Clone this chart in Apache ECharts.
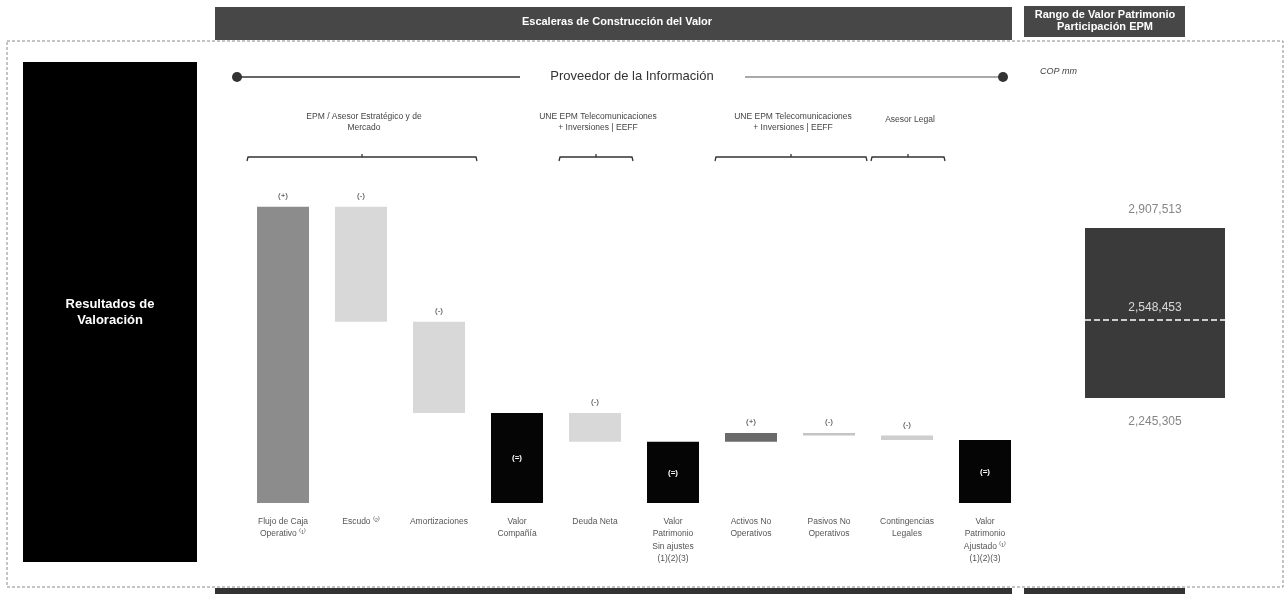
<!DOCTYPE html>
<html><head><meta charset="utf-8">
<script src="https://cdn.jsdelivr.net/npm/echarts@6/dist/echarts.min.js"></script>
<style>html,body{margin:0;padding:0;background:#fff}#c{width:1288px;height:594px}</style>
</head><body><div id="c"></div>
<script>
// ---------- data ----------
const categories = ['Flujo de Caja\nOperativo ⁽¹⁾', 'Escudo ⁽²⁾', 'Amortizaciones', 'Valor\nCompañía', 'Deuda Neta',
  'Valor\nPatrimonio\nSin ajustes\n(1)(2)(3)', 'Activos No\nOperativos', 'Pasivos No\nOperativos',
  'Contingencias\nLegales', 'Valor\nPatrimonio\nAjustado ⁽¹⁾\n(1)(2)(3)'];
const stepKinds = ['start', 'delta', 'delta', 'total', 'delta', 'total', 'delta', 'delta', 'delta', 'total'];
const stepValues = [11970000, -4650000, -3680000, 3640000, -1170000, 2470000, 360000, -100000, -181547, 2548453];
const stepSigns = ['(+)', '(-)', '(-)', '(=)', '(-)', '(=)', '(+)', '(-)', '(-)', '(=)'];
const rangeValues = [2245305, 2548453, 2907513];           // low, mid, high (COP mm)
const rangeLabels = ['2,245,305', '2,548,453', '2,907,513'];
const providerGroups = ['EPM / Asesor Estratégico y de\nMercado', 'UNE EPM Telecomunicaciones\n+ Inversiones | EEFF',
  'UNE EPM Telecomunicaciones\n+ Inversiones | EEFF', 'Asesor Legal'];
const providerFrom = [0, 4, 6, 8];
const providerTo = [2, 4, 7, 8];

// ---------- styles ----------
const barColors = ['#8c8c8c', '#d8d8d8', '#d8d8d8', '#050505', '#d8d8d8', '#050505', '#6a6a6a', '#c4c4c4', '#cecece', '#050505'];
const FONT = '"Liberation Sans", Arial, sans-serif';

// ---------- waterfall build ----------
const baseData = [], visData = [];
let run = 0;
stepValues.forEach((v, i) => {
  if (stepKinds[i] === 'total' || stepKinds[i] === 'start') {
    baseData.push(0);
    const inside = stepKinds[i] === 'total';
    visData.push({ value: v, itemStyle: { color: barColors[i] },
      label: inside ? { position: 'inside', color: '#fff', fontSize: 8, fontWeight: 'bold' }
                    : { position: 'top', distance: 7, color: '#333', fontSize: 8 } });
    run = v;
  } else {
    const end = run + v;
    baseData.push(Math.min(run, end));
    visData.push({ value: Math.abs(v), itemStyle: { color: barColors[i] },
      label: { position: 'top', distance: 7, color: '#333', fontSize: 8 } });
    run = end;
  }
});

const chart = echarts.init(document.getElementById('c'), null, { renderer: 'canvas' });

const option = {
  animation: false,
  backgroundColor: '#fff',
  textStyle: { fontFamily: FONT },
  grid: [
    { left: 244, width: 780, top: 206, height: 297 },
    { left: 1085, width: 140, top: 228, height: 170 }
  ],
  xAxis: [
    { type: 'category', gridIndex: 0, data: categories,
      axisLine: { show: false }, axisTick: { show: false },
      axisLabel: { interval: 0, fontSize: 8.5, color: '#555', lineHeight: 12.5, margin: 12, fontFamily: FONT } },
    { type: 'category', gridIndex: 1, data: ['Rango'], show: false }
  ],
  yAxis: [
    { type: 'value', gridIndex: 0, min: 0, max: 12000000, show: false },
    { type: 'value', gridIndex: 1, min: rangeValues[0], max: rangeValues[2], show: false }
  ],
  series: [
    { type: 'bar', name: 'base', stack: 'wf', xAxisIndex: 0, yAxisIndex: 0, barWidth: 52,
      itemStyle: { color: 'transparent' }, data: baseData, silent: true },
    { type: 'bar', name: 'paso', stack: 'wf', xAxisIndex: 0, yAxisIndex: 0, barWidth: 52,
      label: { show: true, formatter: p => stepSigns[p.dataIndex], fontFamily: FONT },
      data: visData },
    { type: 'bar', name: 'rbase', stack: 'rg', xAxisIndex: 1, yAxisIndex: 1, barWidth: 140,
      itemStyle: { color: 'transparent' }, data: [rangeValues[0]], silent: true },
    { type: 'bar', name: 'rango', stack: 'rg', xAxisIndex: 1, yAxisIndex: 1, barWidth: 140,
      itemStyle: { color: '#3a3a3a' }, data: [rangeValues[2] - rangeValues[0]],
      markLine: { silent: true, symbol: 'none', label: { show: false },
        lineStyle: { color: '#fff', type: [6, 3], width: 1.5 },
        data: [{ yAxis: rangeValues[1] }] } },
    { type: 'scatter', xAxisIndex: 1, yAxisIndex: 1, symbolSize: 0, clip: false, z: 5,
      data: [
        { value: ['Rango', rangeValues[0]], label: { position: 'bottom', distance: 18, color: '#666' } },
        { value: ['Rango', rangeValues[1]], label: { position: 'top', distance: 6, color: '#fff' } },
        { value: ['Rango', rangeValues[2]], label: { position: 'top', distance: 12, color: '#666' } }
      ],
      label: { show: true, fontSize: 12, fontFamily: FONT, formatter: p => rangeLabels[p.dataIndex] } }
  ]
};
chart.setOption(option);

// ---------- decorations ----------
function txt(text, x, y, font, fill, extra) {
  return { type: 'text', silent: true, z: 20,
    style: Object.assign({ text, x, y, font, fill, align: 'center', verticalAlign: 'middle' }, extra || {}) };
}
const g = [];
// dashed frame
g.push({ type: 'rect', shape: { x: 7, y: 41, width: 1276, height: 546 },
  style: { fill: 'none', stroke: '#8a8a8a', lineWidth: 1, lineDash: [3, 2] }, z: 0, silent: true });
// headers
g.push({ type: 'rect', shape: { x: 215, y: 7, width: 797, height: 33 }, style: { fill: '#474747' }, z: 5, silent: true });
g.push(txt('Escaleras de Construcción del Valor', 617, 22, 'bold 11px ' + FONT, '#fff'));
g.push({ type: 'rect', shape: { x: 1024, y: 6, width: 161, height: 31 }, style: { fill: '#474747' }, z: 5, silent: true });
g.push(txt('Rango de Valor Patrimonio\nParticipación EPM', 1105, 21, 'bold 11px ' + FONT, '#fff', { lineHeight: 12 }));
// bottom strips
g.push({ type: 'rect', shape: { x: 215, y: 588, width: 797, height: 6 }, style: { fill: '#333' }, z: 5, silent: true });
g.push({ type: 'rect', shape: { x: 1024, y: 588, width: 161, height: 6 }, style: { fill: '#333' }, z: 5, silent: true });
// left black box
g.push({ type: 'rect', shape: { x: 23, y: 62, width: 174, height: 500 }, style: { fill: '#000' }, z: 5, silent: true });
g.push(txt('Resultados de\nValoración', 110, 312, 'bold 13px ' + FONT, '#fff', { lineHeight: 16 }));
// timeline
g.push({ type: 'line', shape: { x1: 237, y1: 77, x2: 520, y2: 77 }, style: { stroke: '#333', lineWidth: 1.5 }, z: 5, silent: true });
g.push({ type: 'line', shape: { x1: 745, y1: 77, x2: 1003, y2: 77 }, style: { stroke: '#555', lineWidth: 1.2 }, z: 5, silent: true });
g.push({ type: 'circle', shape: { cx: 237, cy: 77, r: 5 }, style: { fill: '#333' }, z: 6, silent: true });
g.push({ type: 'circle', shape: { cx: 1003, cy: 77, r: 5 }, style: { fill: '#333' }, z: 6, silent: true });
g.push(txt('Proveedor de la Información', 632, 76, '13px ' + FONT, '#333'));
g.push(txt('COP mm', 1040, 71, 'italic 9px ' + FONT, '#444', { align: 'left' }));

// provider brackets computed from the category axis
const c0 = chart.convertToPixel({ xAxisIndex: 0 }, 0);
const c1 = chart.convertToPixel({ xAxisIndex: 0 }, 1);
const band = c1 - c0;
const by = 157;
providerGroups.forEach((lab, k) => {
  const xl = chart.convertToPixel({ xAxisIndex: 0 }, providerFrom[k]) - band / 2 + 3;
  const xr = chart.convertToPixel({ xAxisIndex: 0 }, providerTo[k]) + band / 2 - 1;
  const mid = (xl + xr) / 2;
  g.push({ type: 'polyline', silent: true, z: 5,
    shape: { points: [[xl, by + 4], [xl + 1, by], [mid, by], [mid, by - 3], [mid, by], [xr - 1, by], [xr, by + 4]] },
    style: { stroke: '#333', lineWidth: 1.3, fill: 'none' } });
  const isTwo = lab.indexOf('\n') >= 0;
  g.push(txt(lab, mid + 2, isTwo ? 122 : 120, '8.5px ' + FONT, '#444', { lineHeight: 11 }));
});

chart.setOption({ graphic: { elements: g } });
</script>
</body></html>
